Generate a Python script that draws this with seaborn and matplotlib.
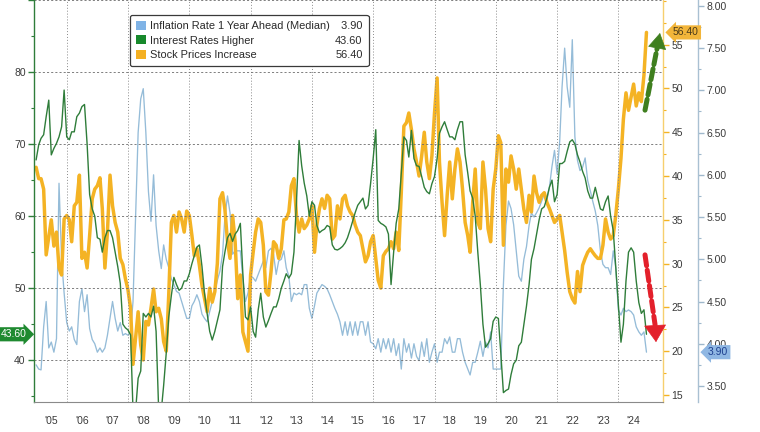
import numpy as np
import pandas as pd
import matplotlib
matplotlib.use("Agg")
import matplotlib.pyplot as plt
import matplotlib.dates as mdates
import matplotlib.ticker as mticker
from matplotlib.patches import Patch
from matplotlib.transforms import blended_transform_factory
import seaborn as sns

# Monthly survey readings, Jan 2005 .. Dec 2024
months = pd.date_range("2005-01-01", periods=240, freq="MS")

rates_higher = [
    67.8, 69.9, 70.8, 71.3, 73.8, 76.1, 68.5, 69.4, 70.1, 71.0, 72.4, 77.5,
    71.0, 70.6, 71.7, 71.7, 73.8, 74.3, 75.2, 75.5, 70.0, 63.0, 61.0, 60.0,
    57.0, 56.8, 55.0, 57.0, 58.0, 58.0, 57.0, 55.0, 53.0, 50.7, 45.0, 44.5,
    44.2, 43.5, 33.0, 33.0, 37.5, 38.5, 46.5, 46.0, 46.5, 46.0, 47.5, 44.0,
    33.0, 33.0, 36.5, 41.0, 46.0, 49.0, 51.5, 50.5, 49.7, 50.0, 51.0, 51.0,
    52.0, 53.4, 54.5, 55.7, 56.0, 53.0, 49.3, 46.5, 44.0, 42.8, 44.0, 45.5,
    47.0, 53.0, 55.0, 57.0, 57.6, 56.5, 57.5, 58.0, 59.0, 52.0, 46.0, 45.6,
    47.4, 44.0, 43.2, 47.0, 49.3, 46.0, 44.6, 45.5, 46.5, 47.4, 47.4, 48.5,
    50.0, 51.0, 52.0, 51.4, 52.0, 55.0, 62.0, 70.5, 67.0, 64.6, 62.8, 60.0,
    62.0, 61.5, 58.7, 57.7, 58.0, 58.2, 58.7, 58.5, 56.0, 55.4, 55.3, 55.5,
    55.8, 56.3, 57.0, 58.1, 59.3, 60.5, 61.5, 62.0, 62.5, 61.0, 61.5, 64.5,
    68.0, 72.0, 59.4, 59.0, 58.8, 58.5, 57.5, 50.5, 55.0, 59.0, 61.0, 66.0,
    71.0, 70.5, 68.2, 71.9, 68.0, 67.0, 66.9, 65.5, 64.0, 63.4, 63.1, 64.5,
    65.5, 68.0, 71.5, 72.4, 73.1, 72.0, 71.0, 71.0, 70.6, 72.0, 73.1, 73.1,
    68.5, 66.0, 63.5, 62.5, 60.0, 55.0, 50.5, 45.0, 41.8, 42.3, 43.0, 45.4,
    46.0, 45.8, 41.0, 35.5, 35.8, 36.0, 38.0, 39.5, 40.0, 42.0, 42.5, 45.0,
    47.5, 50.5, 54.0, 55.5, 57.5, 59.5, 61.0, 61.3, 62.5, 64.0, 65.0, 62.0,
    63.0, 67.3, 67.3, 67.6, 69.0, 70.3, 70.6, 70.0, 68.5, 67.5, 66.2, 65.3,
    63.5, 62.5, 62.5, 64.0, 62.5, 61.0, 60.8, 62.0, 62.8, 60.0, 58.0, 53.0,
    48.0, 42.5, 45.0, 51.0, 55.0, 55.6, 55.0, 51.0, 48.0, 46.5, 47.0, 43.6,
]

stocks_up = [
    41.0, 39.7, 39.7, 38.5, 31.0, 33.0, 35.0, 32.0, 33.6, 29.5, 28.7, 35.1,
    35.5, 35.0, 32.5, 36.6, 37.0, 40.1, 30.6, 31.3, 29.5, 33.2, 37.4, 38.5,
    38.9, 39.8, 36.3, 29.5, 33.6, 40.1, 36.6, 34.7, 33.6, 30.6, 29.9, 28.3,
    27.0, 24.9, 18.5, 21.5, 24.5, 20.7, 19.0, 23.4, 23.0, 24.9, 27.1, 24.5,
    24.9, 23.7, 21.1, 20.0, 26.5, 34.7, 35.5, 33.6, 35.9, 35.1, 33.6, 36.0,
    35.5, 33.2, 30.9, 31.7, 29.8, 27.5, 26.0, 24.5, 27.2, 25.6, 26.8, 30.0,
    37.4, 38.1, 36.2, 32.5, 30.6, 35.5, 32.5, 26.0, 28.7, 22.2, 21.1, 20.0,
    28.7, 31.3, 33.6, 35.1, 34.7, 32.1, 26.8, 26.4, 29.1, 32.5, 32.1, 30.6,
    31.7, 35.0, 35.1, 35.9, 38.9, 39.7, 35.5, 33.6, 35.1, 34.0, 34.4, 35.1,
    36.6, 31.3, 34.4, 36.3, 37.4, 36.3, 37.8, 37.4, 32.8, 33.2, 36.6, 35.1,
    37.4, 37.8, 36.6, 35.9, 35.5, 34.4, 33.6, 33.2, 31.7, 30.2, 30.9, 32.5,
    33.2, 30.6, 28.1, 27.2, 30.9, 31.4, 31.7, 32.5, 31.7, 33.6, 31.5, 38.1,
    45.7, 46.1, 47.2, 45.3, 43.1, 41.6, 40.0, 42.3, 45.0, 41.6, 39.7, 42.3,
    47.2, 51.2, 41.6, 37.0, 33.2, 37.8, 41.6, 37.4, 40.8, 43.1, 41.6, 38.5,
    34.7, 33.2, 31.3, 37.0, 40.8, 34.7, 34.0, 41.6, 38.5, 34.0, 32.5, 38.5,
    40.8, 44.6, 43.8, 32.1, 40.8, 39.3, 42.3, 40.8, 38.5, 40.8, 38.5, 36.2,
    34.7, 37.8, 35.9, 40.0, 38.1, 37.0, 37.8, 38.1, 37.0, 36.3, 35.5, 34.7,
    35.1, 35.5, 33.6, 31.5, 29.0, 26.8, 26.0, 25.5, 29.1, 26.8, 29.8, 30.6,
    31.3, 31.7, 31.3, 30.9, 30.6, 30.6, 32.1, 35.1, 33.6, 32.8, 33.2, 35.5,
    38.5, 42.0, 46.5, 49.5, 47.5, 49.0, 50.5, 48.0, 49.5, 48.5, 51.5, 56.4,
]

inflation_1y = [
    3.75, 3.70, 3.69, 4.20, 4.50, 3.95, 4.02, 3.90, 4.06, 5.90, 5.00, 4.60,
    4.25, 4.15, 4.20, 4.05, 3.99, 4.50, 4.65, 4.38, 4.58, 4.18, 4.05, 4.00,
    3.90, 3.95, 3.90, 3.95, 4.10, 4.30, 4.50, 4.30, 4.15, 4.25, 4.10, 4.12,
    4.10, 4.15, 4.50, 5.50, 6.50, 6.90, 7.02, 6.50, 5.80, 5.45, 6.00, 5.40,
    5.10, 4.89, 5.17, 5.00, 4.90, 4.77, 4.70, 4.62, 4.60, 4.50, 4.40, 4.30,
    4.30, 4.45, 4.50, 4.58, 4.50, 4.35, 4.30, 4.26, 4.38, 4.50, 4.62, 4.75,
    4.86, 5.06, 5.50, 5.75, 5.55, 5.06, 5.10, 5.10, 5.10, 4.77, 4.50, 4.60,
    4.80, 4.78, 4.74, 4.82, 4.90, 4.98, 4.90, 5.10, 5.13, 5.06, 4.82, 4.98,
    5.00, 5.10, 4.90, 4.80, 4.50, 4.60, 4.58, 4.60, 4.58, 4.70, 4.70, 4.42,
    4.30, 4.45, 4.60, 4.65, 4.70, 4.68, 4.65, 4.58, 4.50, 4.42, 4.35, 4.26,
    4.10, 4.26, 4.10, 4.26, 4.10, 4.26, 4.10, 4.26, 4.26, 4.10, 4.26, 4.02,
    4.00, 3.94, 4.06, 3.90, 4.06, 3.94, 4.06, 3.90, 4.06, 3.86, 4.00, 3.70,
    4.06, 3.90, 4.00, 3.83, 4.00, 3.85, 3.80, 4.02, 3.85, 4.06, 3.78, 3.90,
    4.00, 3.78, 3.90, 3.90, 4.06, 4.00, 4.08, 3.90, 3.90, 4.06, 4.06, 3.90,
    3.78, 3.70, 3.63, 3.78, 3.78, 3.90, 4.03, 3.85, 4.02, 3.95, 4.14, 3.70,
    3.70, 3.70, 3.70, 4.70, 5.40, 5.69, 5.60, 5.41, 5.10, 4.80, 4.74, 5.00,
    5.15, 5.40, 5.55, 5.50, 5.55, 5.61, 5.69, 5.77, 5.70, 5.85, 6.10, 6.29,
    6.01, 6.40, 7.04, 7.50, 7.04, 6.80, 7.60, 6.45, 6.17, 6.05, 6.09, 6.20,
    5.93, 5.81, 5.69, 5.57, 5.40, 5.10, 4.94, 4.90, 4.90, 4.82, 5.10, 4.90,
    4.40, 4.34, 4.42, 4.38, 4.40, 4.38, 4.34, 4.20, 4.14, 4.10, 4.14, 3.90,
]

names = ["Inflation Rate 1 Year Ahead (Median)", "Interest Rates Higher", "Stock Prices Increase"]

C_GREEN = "#2f7d3a"
C_ORANGE = "#f4b324"
C_BLUE = "#95bcd8"
TXT = "#3a3a3a"

sns.set_theme(style="white")
plt.rcParams["font.family"] = ["Liberation Sans", "DejaVu Sans"]
FS = 7.5
FS_LEG = 7.9

df = pd.DataFrame({"date": months, "infl": inflation_1y,
                   "rates": rates_higher, "stocks": stocks_up})

fig = plt.figure(figsize=(7.6, 4.32), dpi=100)
fig.patch.set_facecolor("white")
ax = fig.add_axes([34 / 760, 30 / 432, 629 / 760, 402 / 432])
ax_o = ax.twinx()
ax_b = ax.twinx()

sns.lineplot(data=df, x="date", y="infl", ax=ax_b, color=C_BLUE, lw=0.95)
sns.lineplot(data=df, x="date", y="stocks", ax=ax_o, color=C_ORANGE, lw=2.5)
sns.lineplot(data=df, x="date", y="rates", ax=ax, color=C_GREEN, lw=1.0)

# stacking: green on top, blue at the back
ax_b.set_zorder(1)
ax_o.set_zorder(2)
ax.set_zorder(3)
ax.patch.set_visible(False)
ax_o.patch.set_visible(False)

for a in (ax, ax_o, ax_b):
    a.set_xlabel("")
    a.set_ylabel("")

# x axis: year separators + centred year labels
ax.set_xlim(pd.Timestamp("2004-12-07"), pd.Timestamp("2025-06-16"))
ax.xaxis.set_major_locator(mdates.YearLocator(1))
ax.xaxis.set_major_formatter(mticker.NullFormatter())
ax.xaxis.set_minor_locator(mdates.MonthLocator(bymonth=7, bymonthday=1))
ax.xaxis.set_minor_formatter(mdates.DateFormatter("'%y"))
ax.tick_params(axis="x", which="major", length=22, width=0.8, color="#8a8a8a", direction="out")
ax.tick_params(axis="x", which="minor", length=0, pad=10, labelsize=FS, labelcolor=TXT)

# left axis (interest rates higher)
ax.set_ylim(34.2, 90)
ax.set_yticks([40, 50, 60, 70, 80, 90], labels=["40", "50", "60", "70", "80", ""])
ax.yaxis.set_minor_locator(mticker.MultipleLocator(5))
ax.tick_params(axis="y", which="major", length=4, width=1.0, color=C_GREEN,
               labelsize=FS, labelcolor=TXT, pad=2)
ax.tick_params(axis="y", which="minor", length=2.5, width=0.8, color=C_GREEN)
ax.grid(axis="y", which="major", ls=(0, (2.5, 2.5)), color="#6a6a6a", lw=0.6)
for yr in range(2006, 2025, 2):
    ax.axvline(pd.Timestamp(f"{yr}-01-01"), ls=(0, (1, 2)), color="#8a8a8a", lw=0.7, zorder=0)

for s in ("top", "right"):
    ax.spines[s].set_visible(False)
ax.spines["left"].set_color(C_GREEN)
ax.spines["left"].set_linewidth(1.0)
ax.spines["bottom"].set_color("#8a8a8a")
ax.spines["bottom"].set_linewidth(0.8)

# orange axis (stock prices increase)
ax_o.set_ylim(14.2, 60.1)
ax_o.set_yticks(np.arange(15, 56, 5))
ax_o.yaxis.set_minor_locator(mticker.MultipleLocator(2.5))
ax_o.tick_params(axis="y", which="major", length=4, width=1.0, color=C_ORANGE,
                 labelsize=FS, labelcolor=TXT, pad=2)
ax_o.tick_params(axis="y", which="minor", length=2.5, width=0.8, color=C_ORANGE)
for s in ("top", "left", "bottom"):
    ax_o.spines[s].set_visible(False)
ax_o.spines["right"].set_color("#f6cf6e")
ax_o.spines["right"].set_linewidth(1.0)

# blue axis (inflation expectations)
ax_b.set_ylim(3.31, 8.07)
ax_b.spines["right"].set_position(("axes", 664 / 629))
ax_b.set_yticks(np.arange(3.5, 8.01, 0.5))
ax_b.yaxis.set_major_formatter(mticker.FormatStrFormatter("%.2f"))
ax_b.yaxis.set_minor_locator(mticker.MultipleLocator(0.25))
ax_b.tick_params(axis="y", which="major", length=4, width=1.0, color="#9fb8cc",
                 labelsize=FS, labelcolor=TXT, pad=2)
ax_b.tick_params(axis="y", which="minor", length=2.5, width=0.8, color="#9fb8cc")
for s in ("top", "left", "bottom"):
    ax_b.spines[s].set_visible(False)
ax_b.spines["right"].set_color("#a9c0d2")
ax_b.spines["right"].set_linewidth(1.0)

# last-value tags
ax.text(-0.012, rates_higher[-1], f"{rates_higher[-1]:.2f}",
        transform=blended_transform_factory(ax.transAxes, ax.transData),
        ha="right", va="center", color="white", fontsize=FS,
        bbox=dict(boxstyle="rarrow,pad=0.2", fc="#1f8a30", ec="none"), clip_on=False)
ax_o.text(1.016, stocks_up[-1], f"{stocks_up[-1]:.2f}",
          transform=blended_transform_factory(ax_o.transAxes, ax_o.transData),
          ha="left", va="center", color="#4a3a1a", fontsize=FS,
          bbox=dict(boxstyle="larrow,pad=0.2", fc="#f2b53a", ec="none"), clip_on=False)
ax_b.text(664 / 629 + 0.016, inflation_1y[-1], f"{inflation_1y[-1]:.2f}",
          transform=blended_transform_factory(ax_b.transAxes, ax_b.transData),
          ha="left", va="center", color="#1d3f8f", fontsize=FS, zorder=10,
          bbox=dict(boxstyle="larrow,pad=0.2", fc="#8fb7e3", ec="none"), clip_on=False)

# legend with last values in a second column
handles = [Patch(fc="#7fb3e6", ec="none"), Patch(fc="#17892b", ec="none"),
           Patch(fc="#f4b022", ec="none")] + [Patch(fc="none", ec="none")] * 3
values = ["\u2007" + f"{inflation_1y[-1]:.2f}", f"{rates_higher[-1]:.2f}", f"{stocks_up[-1]:.2f}"]
leg = ax.legend(handles, names + values, ncol=2, loc="upper left",
                bbox_to_anchor=(0.1526, 0.9627), fontsize=FS_LEG, frameon=True,
                handlelength=0.9, handleheight=0.9, handletextpad=0.4,
                columnspacing=-0.85, borderpad=0.55, labelspacing=0.36,
                borderaxespad=0, fancybox=True)
leg.get_frame().set_edgecolor("#3a3a3a")
leg.get_frame().set_linewidth(0.9)
leg.get_frame().set_alpha(1)
for t in leg.get_texts():
    t.set_color("#2a2a2a")


def dashed_arrow(tail, base, tip, color, hw, hl):
    # dashed shaft, solid head
    ax.annotate("", xy=base, xytext=tail, xycoords="axes fraction",
                arrowprops=dict(arrowstyle="-", color=color, lw=3.6,
                                ls=(0, (2.2, 0.9)), shrinkA=0, shrinkB=0),
                annotation_clip=False)
    ax.annotate("", xy=tip, xytext=base, xycoords="axes fraction",
                arrowprops=dict(arrowstyle=f"-|>,head_width={hw},head_length={hl}",
                                mutation_scale=10, color=color, lw=0.5,
                                shrinkA=0, shrinkB=0),
                annotation_clip=False)


dashed_arrow((0.9714, 0.726), (0.9906, 0.880), (0.9952, 0.918), "#3f7f1f", 0.62, 1.05)
dashed_arrow((0.9714, 0.366), (0.9874, 0.192), (0.9889, 0.149), "#e3202b", 0.75, 1.15)

fig.savefig("out.png", dpi=100, facecolor="white")
